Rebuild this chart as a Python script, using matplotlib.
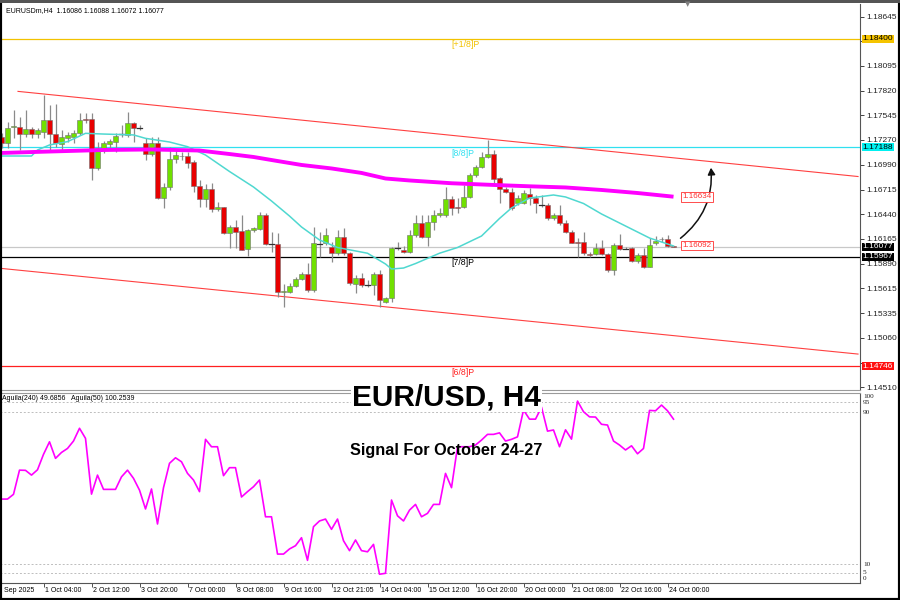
import matplotlib
matplotlib.use("Agg")
import matplotlib.pyplot as plt
from matplotlib.patches import Rectangle, FancyArrowPatch

# ---------------- data ----------------
opens = [1.17299,1.17232,1.17417,1.17410,1.17332,1.17388,1.17335,1.17361,1.17492,1.17332,
         1.17221,1.17294,1.17305,1.17343,1.17500,1.17500,1.16953,1.17176,1.17224,1.17250,
         1.17332,1.17325,1.17455,1.17399,1.17232,1.17113,1.17239,1.16618,1.16741,1.17053,
         1.17090,1.17090,1.17027,1.16756,1.16607,1.16722,1.16495,1.16518,1.16228,1.16302,
         1.16257,1.16049,1.16265,1.16272,1.16432,1.16108,1.16108,1.15576,1.15576,1.15640,
         1.15714,1.15774,1.15595,1.16116,1.16116,1.16079,1.16005,1.16190,1.16005,1.15662,
         1.15726,1.15651,1.15651,1.15774,1.15465,1.15503,1.16060,1.16042,1.16023,1.16209,
         1.16340,1.16190,1.16357,1.16432,1.16432,1.16610,1.16525,1.16525,1.16636,1.16878,
         1.16971,1.17082,1.17109,1.16842,1.16719,1.16692,1.16569,1.16569,1.16666,1.16618,
         1.16543,1.16543,1.16395,1.16432,1.16340,1.16246,1.16134,1.16134,1.15994,1.15994,
         1.16060,1.15994,1.15818,1.16097,1.16060,1.16060,1.15922,1.15987,1.15855,1.16116,
         1.16160,1.16160,1.16086]
highs = [1.17347,1.17473,1.17604,1.17523,1.17604,1.17417,1.17406,1.17771,1.17659,1.17671,
         1.17380,1.17361,1.17380,1.17567,1.17567,1.17567,1.17250,1.17261,1.17277,1.17343,
         1.17436,1.17578,1.17473,1.17436,1.17287,1.17299,1.17305,1.16786,1.17194,1.17165,
         1.17138,1.17138,1.17046,1.16823,1.16778,1.16793,1.16580,1.16521,1.16321,1.16376,
         1.16432,1.16272,1.16302,1.16469,1.16458,1.16246,1.16228,1.15662,1.15670,1.15744,
         1.15799,1.15893,1.16302,1.16246,1.16284,1.16134,1.16265,1.16284,1.16023,1.15763,
         1.15781,1.15707,1.15799,1.15818,1.15520,1.16079,1.16134,1.16087,1.16265,1.16432,
         1.16432,1.16432,1.16488,1.16506,1.16748,1.16644,1.16618,1.16767,1.16897,1.16990,
         1.17138,1.17269,1.17157,1.16859,1.16748,1.16729,1.16655,1.16711,1.16729,1.16655,
         1.16655,1.16562,1.16451,1.16543,1.16376,1.16265,1.16172,1.16246,1.16023,1.16116,
         1.16153,1.16005,1.16116,1.16216,1.16079,1.16079,1.16005,1.16060,1.16172,1.16198,
         1.16190,1.16209,1.16088]
lows = [1.17180,1.17176,1.17287,1.17157,1.17305,1.17287,1.17287,1.17287,1.17138,1.17194,
        1.17138,1.17250,1.17232,1.17325,1.17455,1.16823,1.16934,1.17120,1.17176,1.17138,
        1.17305,1.17305,1.17250,1.17380,1.17046,1.17090,1.16610,1.16506,1.16711,1.17009,
        1.17046,1.16953,1.16692,1.16525,1.16525,1.16469,1.16480,1.16220,1.16060,1.16060,
        1.16036,1.15975,1.16246,1.16265,1.16097,1.16023,1.15520,1.15409,1.15558,1.15632,
        1.15707,1.15576,1.15576,1.15967,1.16097,1.15911,1.15987,1.15987,1.15651,1.15558,
        1.15632,1.15632,1.15539,1.15409,1.15446,1.15465,1.16042,1.16012,1.16012,1.16190,
        1.16172,1.16087,1.16265,1.16413,1.16413,1.16432,1.16451,1.16506,1.16618,1.16859,
        1.16953,1.17064,1.16793,1.16562,1.16674,1.16488,1.16543,1.16554,1.16543,1.16451,
        1.16525,1.16376,1.16376,1.16321,1.16228,1.16116,1.15967,1.15987,1.15967,1.15987,
        1.15987,1.15799,1.15763,1.16042,1.16049,1.15911,1.15900,1.15837,1.15848,1.16097,
        1.16134,1.16079,1.16072]
closes = [1.17232,1.17406,1.17422,1.17332,1.17388,1.17335,1.17380,1.17492,1.17332,1.17232,
          1.17299,1.17325,1.17350,1.17492,1.17495,1.16953,1.17176,1.17239,1.17254,1.17316,
          1.17335,1.17455,1.17399,1.17403,1.17113,1.17239,1.16618,1.16748,1.17057,1.17101,
          1.17085,1.17016,1.16756,1.16607,1.16722,1.16495,1.16518,1.16228,1.16302,1.16246,
          1.16042,1.16265,1.16287,1.16432,1.16105,1.16105,1.15576,1.15580,1.15640,1.15714,
          1.15774,1.15595,1.16116,1.16113,1.16209,1.16005,1.16190,1.16005,1.15670,1.15726,
          1.15651,1.15648,1.15774,1.15484,1.15503,1.16060,1.16064,1.16023,1.16209,1.16340,
          1.16190,1.16357,1.16432,1.16451,1.16610,1.16506,1.16506,1.16636,1.16878,1.16971,
          1.17082,1.17109,1.16831,1.16719,1.16692,1.16506,1.16618,1.16681,1.16618,1.16562,
          1.16540,1.16395,1.16432,1.16340,1.16246,1.16123,1.16116,1.16005,1.15990,1.16060,
          1.15997,1.15818,1.16097,1.16053,1.16057,1.15922,1.15987,1.15848,1.16097,1.16145,
          1.16164,1.16087,1.16077]

ma_slow_idx = [0, 8, 17, 25, 33, 38, 42, 46, 50, 55, 60, 64, 68, 75, 82, 88, 94, 100, 106, 112]
ma_slow = [1.17124, 1.17140, 1.17157, 1.17163, 1.17151, 1.17112, 1.17079, 1.17034, 1.16990, 1.16951,
           1.16901, 1.16839, 1.16817, 1.16786, 1.16767, 1.16752, 1.16739, 1.16711, 1.16677, 1.16636]
ma_fast_idx = [0, 5, 6, 8, 11, 14, 17, 22, 24, 28, 31, 34, 38, 42, 45, 48, 50, 53, 56, 61, 64, 65,
               67, 69, 73, 76, 80, 83, 85, 88, 92, 94, 97, 100, 104, 108, 112]
ma_fast = [1.17090, 1.17090, 1.17157, 1.17213, 1.17250, 1.17343, 1.17335, 1.17325, 1.17287, 1.17246,
           1.17194, 1.17101, 1.16917, 1.16744, 1.16588, 1.16420, 1.16298, 1.16153, 1.16069, 1.16005,
           1.15885, 1.15829, 1.15840, 1.15890, 1.16005, 1.16069, 1.16197, 1.16393, 1.16510, 1.16621,
           1.16655, 1.16633, 1.16560, 1.16443, 1.16309, 1.16175, 1.16086]

aguila = [44.1, 44.1, 46.6, 59.3, 59.2, 56.7, 59.5, 67.6, 74.2, 65.5,
          68.6, 70.7, 74.6, 81.3, 76.0, 46.7, 56.7, 49.2, 49.2, 49.2,
          55.8, 59.3, 55.0, 48.8, 38.9, 49.4, 31.0, 50.1, 62.9, 65.8,
          63.7, 57.6, 54.1, 48.0, 75.5, 71.6, 71.6, 56.4, 60.6, 60.6,
          45.2, 48.0, 50.6, 54.1, 34.8, 34.8, 15.2, 15.2, 17.9, 19.6,
          23.8, 11.9, 29.6, 32.6, 33.6, 28.2, 33.6, 22.2, 17.0, 22.6,
          17.0, 16.4, 20.3, 4.6, 5.1, 43.6, 35.3, 32.6, 38.3, 41.3,
          34.8, 36.6, 41.3, 41.3, 57.6, 50.1, 71.6, 71.6, 71.6, 72.5,
          75.1, 78.1, 78.1, 78.9, 74.6, 75.5, 76.8, 90.9, 86.1, 86.1,
          92.4, 79.8, 80.4, 71.6, 80.5, 75.6, 95.6, 90.0, 87.3, 87.2,
          83.4, 83.0, 74.6, 72.5, 69.9, 72.1, 67.9, 70.7, 90.7, 90.5,
          93.5, 90.5, 86.1]

price_ticks = [1.18645, 1.18370, 1.18095, 1.17820, 1.17545, 1.17270, 1.16990, 1.16715,
               1.16440, 1.16165, 1.15890, 1.15615, 1.15335, 1.15060, 1.14785, 1.14510]
hidden_ticks = [1.18370, 1.14785]   # covered by the level tags in the reference
time_tick_idx = [7, 15, 23, 31, 39, 47, 55, 63, 71, 79, 87, 95, 103, 111]
time_tick_labels = ["1 Oct 04:00", "2 Oct 12:00", "3 Oct 20:00", "7 Oct 00:00", "8 Oct 08:00",
                    "9 Oct 16:00", "12 Oct 21:05", "14 Oct 04:00", "15 Oct 12:00", "16 Oct 20:00",
                    "20 Oct 00:00", "21 Oct 08:00", "22 Oct 16:00", "24 Oct 00:00"]

level_names = ["[+1/8]P", "[8/8]P", "[7/8]P", "[6/8]P"]
level_values = [1.18400, 1.17188, 1.15967, 1.14746]
level_colors = ["#F2C200", "#30E0F0", "#000000", "#FF2020"]
bid_price = 1.16077

chan_upper_x = [2.75, 142.75]
chan_upper_y = [1.17811, 1.16861]
chan_lower_x = [-0.25, 142.75]
chan_lower_y = [1.15837, 1.14880]

arrow_from = (112.8, 1.16153)
arrow_to = (118.2, 1.16990)
ma_label_slow = 1.16634
ma_label_fast = 1.16092

osc_levels = [95, 90, 10, 5]
osc_labels = [100, 95, 90, 10, 5, 0]

# ---------------- figure ----------------
W, H = 900, 600
fig = plt.figure(figsize=(9, 6), dpi=100)
FONT = "Liberation Sans"

def fy(py):
    return 1 - py / H

ax = fig.add_axes([0, fy(390), 860 / W, (390 - 4) / H])
axi = fig.add_axes([0, fy(583), 860 / W, (583 - 392.7) / H])

XMIN, XMAX = -0.25, 143.08
ax.set_xlim(XMIN, XMAX)
ax.set_ylim(1.14479, 1.18786)
axi.set_xlim(XMIN, XMAX)
axi.set_ylim(0, 100)

# level lines
for name, val, col in zip(level_names, level_values, level_colors):
    ax.axhline(val, color=col, lw=0.9, zorder=1)
    ax.annotate(name, xy=(75.0, val), xytext=(0, -1.2), textcoords="offset points",
                color=col, fontsize=6.3, family=FONT, ha="left", va="top", zorder=2)
ax.axhline(bid_price, color="#C8C8C8", lw=0.9, zorder=1)

# channel
ax.plot(chan_upper_x, chan_upper_y, color="#FF4040", lw=0.8, zorder=1)
ax.plot(chan_lower_x, chan_lower_y, color="#FF4040", lw=0.8, zorder=1)

# candles
UP, DN, WICK = "#70E000", "#E80000", "#8A8A8A"
bw = 0.72
for i, (o, h, l, c) in enumerate(zip(opens, highs, lows, closes)):
    ax.plot([i, i], [l, h], color=WICK, lw=0.9, zorder=3, solid_capstyle="butt")
    lo, hi = min(o, c), max(o, c)
    if hi - lo < 0.00004:
        ax.plot([i - bw / 2, i + bw / 2], [c, c], color="#303030", lw=0.9, zorder=4)
    else:
        ax.add_patch(Rectangle((i - bw / 2, lo), bw, hi - lo,
                               facecolor=UP if c >= o else DN,
                               edgecolor="#707070", lw=0.4, zorder=4))

# moving averages
ax.plot(ma_fast_idx, ma_fast, color="#4FD8D0", lw=1.1, zorder=5)
ax.plot(ma_slow_idx, ma_slow, color="#FF00FF", lw=2.8, zorder=5, solid_capstyle="butt")

# arrow
arr = FancyArrowPatch(arrow_from, arrow_to, connectionstyle="arc3,rad=0.28",
                      arrowstyle="-|>,head_length=4,head_width=2.2",
                      color="#111111", lw=1.1, zorder=6)
ax.add_patch(arr)

# MA value tags
for v in [ma_label_slow, ma_label_fast]:
    ax.text(113.5, v, f"{v:.5f}", color="#FF3030", fontsize=5.8, family=FONT,
            ha="left", va="center", zorder=7,
            bbox=dict(boxstyle="square,pad=0.15", fc="white", ec="#FF3030", lw=0.6))

# right price axis
ax.yaxis.tick_right()
ax.set_yticks(price_ticks)
ax.set_yticklabels(["" if t in hidden_ticks else f"{t:.5f}" for t in price_ticks])
ax.tick_params(axis="y", direction="out", length=3, width=0.6, pad=1.5,
               labelsize=6.0, colors="#222222")
for lab in ax.get_yticklabels():
    lab.set_family(FONT)
ax.set_xticks([])

# price boxes on axis
boxes = [(1.18400, "#F5C400", "black"), (1.17188, "#00F0F0", "black"),
         (bid_price, "black", "white"), (1.15967, "black", "white"),
         (1.14746, "#FF1010", "white")]
for v, fc, tc in boxes:
    ax.annotate(f"{v:.5f}", xy=(1.0, v), xycoords=("axes fraction", "data"),
                xytext=(2.0, 0), textcoords="offset points", ha="left", va="center",
                fontsize=6.0, family=FONT, color=tc, zorder=10, annotation_clip=False,
                bbox=dict(boxstyle="square,pad=0.05", fc=fc, ec="none"))

for s in ["left", "top"]:
    ax.spines[s].set_visible(False)
ax.spines["right"].set_color("#555555")
ax.spines["bottom"].set_color("#9A9A9A")
ax.spines["right"].set_linewidth(0.8)

# oscillator
for lv in osc_levels:
    axi.axhline(lv, color="#BDBDBD", lw=0.7, ls=(0, (2, 2)), zorder=1)
axi.plot(range(len(aguila)), aguila, color="#FF00FF", lw=1.2, zorder=3)
axi.set_yticks([])
axi.set_xticks(time_tick_idx)
axi.set_xticklabels([])
axi.tick_params(axis="x", direction="out", length=3, width=0.6, colors="#333333")
axi.spines["left"].set_visible(False)
axi.spines["top"].set_color("#9A9A9A")
axi.spines["right"].set_color("#555555")
axi.spines["bottom"].set_color("#555555")

osc_label_px = [396, 402.5, 412, 564, 572.5, 578]
for v, py in zip(osc_labels, osc_label_px):
    fig.text(863 / W, fy(py), str(v), fontsize=5.2, family="Liberation Serif",
             ha="left", va="center", color="#222222")

# time labels
fig.text(4 / W, fy(590.5), "Sep 2025", fontsize=5.0, family=FONT, ha="left", va="center")
for k, lab in zip(time_tick_idx, time_tick_labels):
    axi.annotate(lab, xy=(k, 0), xycoords=("data", "axes fraction"),
                 xytext=(1.3, -5.6), textcoords="offset points",
                 ha="left", va="center", fontsize=5.0, family=FONT, annotation_clip=False)

# headers
fig.text(6 / W, fy(11), "EURUSDm,H4  1.16086 1.16088 1.16072 1.16077",
         fontsize=5.0, family=FONT, ha="left", va="center")
fig.text(2 / W, fy(398.5), "Aguila(240) 49.6856   Aguila(50) 100.2539",
         fontsize=5.0, family=FONT, ha="left", va="center")

# title
fig.text(446.5 / W, fy(397), "EUR/USD, H4", fontsize=21.5, fontweight="bold",
         family=FONT, ha="center", va="center", zorder=20,
         bbox=dict(boxstyle="square,pad=0.05", fc="white", ec="none"))
fig.text(446 / W, fy(450), "Signal For October 24-27", fontsize=11.7, fontweight="bold",
         family=FONT, ha="center", va="center", zorder=20)

# small marker on the top edge
fig.text(688 / W, fy(4), "\u25BC", fontsize=5, color="#808080", ha="center", va="center")

# outer frame
fig.add_artist(Rectangle((0, 0), 1, 1, transform=fig.transFigure, fill=False,
                         ec="black", lw=3.0))
fig.add_artist(Rectangle((0, fy(3)), 1, 3 / H, transform=fig.transFigure,
                         fc="#555555", ec="none"))

fig.savefig("out.png", dpi=100, facecolor="white")
